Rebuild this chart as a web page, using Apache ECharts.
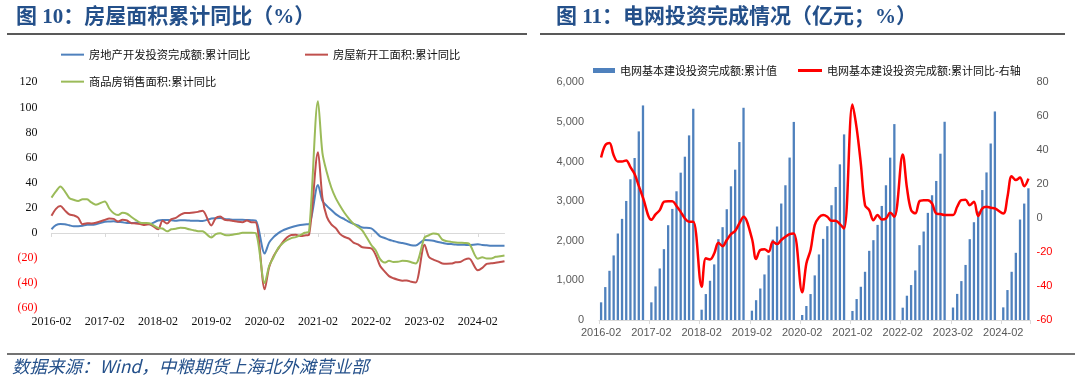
<!DOCTYPE html>
<html><head><meta charset="utf-8">
<script src="https://cdn.jsdelivr.net/npm/echarts@6/dist/echarts.min.js"></script>
<style>html,body{margin:0;padding:0;background:#fff}#c{width:1080px;height:380px}</style>
</head><body><div id="c"></div>
<script>
// ---- data (Feb..Dec per year; 2024 to Aug). January has no release -> null slot
const years = [2016, 2017, 2018, 2019, 2020, 2021, 2022, 2023, 2024];
const lastMonth2024 = 8;

const investYoY = [ // 房地产开发投资完成额:累计同比
  [3.0, 6.2, 7.2, 7.0, 6.1, 5.3, 5.4, 5.8, 6.6, 6.5, 6.9],
  [8.9, 9.1, 9.3, 8.8, 8.5, 7.9, 7.9, 8.1, 7.8, 7.5, 7.0],
  [9.9, 10.4, 10.3, 10.2, 9.7, 10.2, 10.1, 9.9, 9.7, 9.7, 9.5],
  [11.6, 11.8, 11.9, 11.2, 10.9, 10.6, 10.5, 10.5, 10.3, 10.2, 9.9],
  [-16.3, -7.7, -3.3, -0.3, 1.9, 3.4, 4.6, 5.6, 6.3, 6.8, 7.0],
  [38.3, 25.6, 21.6, 18.3, 15.0, 12.7, 10.9, 8.8, 7.2, 6.0, 4.4],
  [3.7, 0.7, -2.7, -4.0, -5.4, -6.4, -7.4, -8.0, -8.8, -9.8, -10.0],
  [-5.7, -5.8, -6.2, -7.2, -7.9, -8.5, -8.8, -9.1, -9.3, -9.4, -9.6],
  [-9.0, -9.5, -9.8, -10.1, -10.1, -10.2, -10.2]
];
const startsYoY = [ // 房屋新开工面积:累计同比
  [13.7, 19.2, 21.4, 18.0, 14.9, 14.0, 12.2, 6.9, 7.8, 7.6, 8.1],
  [10.4, 11.6, 11.2, 9.1, 10.6, 9.9, 7.8, 7.6, 7.1, 6.3, 7.0],
  [2.9, 9.7, 7.5, 11.0, 12.0, 14.4, 15.9, 16.0, 16.3, 16.8, 17.7],
  [6.0, 11.9, 13.1, 10.5, 10.1, 9.5, 8.9, 8.6, 10.0, 8.6, 8.5],
  [-44.9, -27.2, -18.4, -12.8, -7.6, -3.6, -1.6, -1.4, -2.4, -2.0, -1.2],
  [64.3, 28.2, 12.8, 6.9, 3.8, -0.9, -3.2, -4.5, -7.7, -9.1, -11.4],
  [-12.2, -17.5, -26.3, -30.6, -34.4, -36.1, -37.2, -38.0, -37.8, -38.9, -39.4],
  [-9.4, -19.2, -21.2, -22.6, -24.3, -24.5, -24.4, -23.4, -23.2, -21.2, -20.4],
  [-29.7, -27.8, -24.6, -24.2, -23.7, -23.2, -22.5]
];
const salesYoY = [ // 商品房销售面积:累计同比
  [28.2, 33.1, 37.1, 33.2, 27.9, 26.4, 25.5, 26.9, 26.8, 24.3, 22.5],
  [25.1, 19.5, 15.7, 14.3, 16.1, 15.3, 12.7, 10.3, 8.2, 7.9, 7.7],
  [4.1, 3.6, 1.3, 2.9, 3.3, 4.2, 4.0, 2.9, 2.2, 1.4, 1.3],
  [-3.6, -0.9, -0.3, -1.6, -1.8, -1.3, -0.6, 0.1, 0.2, 0.2, -0.1],
  [-39.9, -26.3, -19.3, -12.3, -8.4, -5.8, -4.1, -3.3, -1.8, 0.2, 1.3],
  [105.0, 63.8, 48.1, 36.2, 27.7, 21.5, 15.9, 11.3, 7.3, 4.8, 1.9],
  [-9.6, -13.8, -20.9, -23.6, -22.2, -23.1, -23.0, -22.2, -22.3, -23.3, -24.3],
  [-3.6, -1.8, -0.4, -0.9, -5.3, -6.5, -7.1, -7.5, -7.8, -8.0, -8.5],
  [-20.5, -19.4, -20.3, -20.3, -19.0, -18.6, -18.0]
];
const gridInvest = [ // 电网基本建设投资完成额:累计值 (亿元)
  [446, 831, 1242, 1630, 2183, 2553, 3005, 3552, 4089, 4761, 5416],
  [446, 848, 1301, 1788, 2393, 2804, 3249, 3719, 4122, 4660, 5332],
  [260, 655, 990, 1403, 2040, 2343, 2796, 3375, 3795, 4492, 5357],
  [235, 500, 795, 1150, 1635, 2030, 2360, 2940, 3401, 4100, 5000],
  [126, 353, 655, 1126, 1655, 2048, 2368, 2897, 3358, 3929, 4685],
  [227, 529, 839, 1217, 1746, 2015, 2401, 2879, 3401, 4098, 4945],
  [311, 613, 882, 1251, 1889, 2233, 2704, 3149, 3510, 4198, 5004],
  [315, 659, 982, 1390, 2040, 2468, 2740, 3280, 3725, 4455, 5264],
  [319, 756, 1217, 1696, 2536, 2939, 3325]
];
const gridInvestYoY = [ // 电网基本建设投资完成额:累计同比 (右轴)
  [35.7, 43.0, 44.3, 37.0, 33.3, 33.3, 34.0, 30.0, 26.0, 19.0, 12.0],
  [-1.0, 2.2, 4.7, 9.6, 10.0, 10.0, 7.2, 3.7, -0.2, -2.2, -2.2],
  [-40.4, -23.7, -24.3, -20.8, -14.5, -16.5, -12.9, -9.4, -7.5, -3.1, 0.8],
  [-12.0, -24.0, -18.8, -18.4, -19.8, -13.9, -15.3, -12.9, -11.0, -9.4, -9.0],
  [-43.7, -26.7, -18.8, -4.1, 0.4, 1.8, 0.8, -1.6, -1.6, -3.5, -6.1],
  [66.9, 53.0, 32.0, 7.6, 4.7, -1.2, 1.8, -0.8, -0.2, 3.1, 0.8],
  [37.5, 18.0, 4.7, 2.8, 10.0, 10.6, 10.6, 8.6, 2.7, 2.4, 1.8],
  [1.8, 6.7, 10.6, 10.8, 7.6, 9.6, 1.2, 5.7, 6.7, 6.1, 5.7],
  [2.7, 12.5, 24.7, 22.4, 23.9, 18.8, 23.3]
];

const names = {
  invest: '房地产开发投资完成额:累计同比',
  starts: '房屋新开工面积:累计同比',
  sales: '商品房销售面积:累计同比',
  bar: '电网基本建设投资完成额:累计值',
  line: '电网基本建设投资完成额:累计同比-右轴'
};

// ---- build category axis and flattened series (null for January)
const categories = [];
years.forEach(y => {
  for (let m = 1; m <= 12; m++) {
    if (y === years[0] && m < 2) continue;
    if (y === years[years.length - 1] && m > lastMonth2024) break;
    categories.push(y + '-' + (m < 10 ? '0' + m : '' + m));
  }
});
function flat(arr) {
  const out = [];
  arr.forEach((vals, i) => {
    if (i > 0) out.push(null);
    vals.forEach(v => out.push(v));
  });
  return out;
}

const serif = '"Liberation Serif", "Noto Sans CJK SC", serif';
const cjk = '"Noto Sans CJK SC", sans-serif';
const sans = '"Liberation Sans", "Noto Sans CJK SC", sans-serif';
const titleColor = '#24508A';

const lineLegend = (name, left, top, size) => ({
  data: [name], left: left, top: top, padding: 0, icon: 'rect', itemWidth: 23, itemHeight: 2,
  textStyle: {fontSize: size, color: '#111', fontFamily: cjk}
});

const chart = echarts.init(document.getElementById('c'), null, {renderer: 'canvas'});
chart.setOption({
  animation: false,
  backgroundColor: '#fff',
  title: [
    {text: '图 10：房屋面积累计同比（%）', left: 11, top: 2, textStyle: {fontSize: 21, fontWeight: 'bold', color: titleColor, fontFamily: serif}},
    {text: '图 11：电网投资完成情况（亿元；%）', left: 551, top: 2, textStyle: {fontSize: 21, fontWeight: 'bold', color: titleColor, fontFamily: serif}}
  ],
  graphic: [
    {type: 'line', shape: {x1: 7, y1: 34, x2: 527, y2: 34}, style: {stroke: '#222', lineWidth: 1.5}},
    {type: 'line', shape: {x1: 540, y1: 34, x2: 1065, y2: 34}, style: {stroke: '#222', lineWidth: 1.5}},
    {type: 'line', shape: {x1: 7, y1: 354, x2: 1075, y2: 354}, style: {stroke: '#444', lineWidth: 1.5}},
    {type: 'text', left: 12, top: 358, style: {text: '数据来源：Wind，中粮期货上海北外滩营业部', font: 'italic 17.5px "Noto Sans CJK SC", sans-serif', fill: titleColor}}
  ],
  legend: [
    lineLegend(names.invest, 61, 49, 11.3),
    lineLegend(names.starts, 305, 49, 11.3),
    lineLegend(names.sales, 61, 76, 11.3),
    {data: [names.bar], left: 593, top: 65, padding: 0, icon: 'rect', itemWidth: 22, itemHeight: 5, textStyle: {fontSize: 11, color: '#111', fontFamily: cjk}},
    {data: [names.line], left: 798, top: 65, padding: 0, icon: 'rect', itemWidth: 24, itemHeight: 3, textStyle: {fontSize: 11, color: '#111', fontFamily: cjk}}
  ],
  grid: [
    {left: 51.5, top: 82.3, width: 453, height: 226},
    {left: 599, top: 82.3, width: 431.5, height: 237.7}
  ],
  xAxis: [
    {gridIndex: 0, type: 'category', data: categories, boundaryGap: false, position: 'bottom',
      axisLine: {show: false, onZero: false}, axisTick: {show: false},
      axisLabel: {interval: 11, margin: 8, fontSize: 12, color: '#111', fontFamily: serif}},
    {gridIndex: 0, type: 'category', data: categories, boundaryGap: false, position: 'top',
      axisLine: {show: true, onZero: true, lineStyle: {color: '#D9D9D9', width: 1.2}},
      axisTick: {show: true, interval: 11, inside: true, length: 4, lineStyle: {color: '#D9D9D9'}},
      axisLabel: {show: false}},
    {gridIndex: 1, type: 'category', data: categories, boundaryGap: true, position: 'bottom',
      axisLine: {show: true, lineStyle: {color: '#D9D9D9', width: 1}},
      axisTick: {show: true, interval: 11, length: 4, lineStyle: {color: '#D9D9D9'}},
      axisLabel: {interval: 11, margin: 7, fontSize: 11, color: '#595959', fontFamily: sans}}
  ],
  yAxis: [
    {gridIndex: 0, type: 'value', min: -60, max: 120, interval: 20,
      axisLine: {show: false}, axisTick: {show: false}, splitLine: {show: false},
      axisLabel: {margin: 14, fontSize: 12, fontFamily: serif,
        formatter: v => (v < 0 ? '(' + (-v) + ')' : '' + v),
        color: v => (Number(v) < 0 ? '#FF0000' : '#111')}},
    {gridIndex: 1, type: 'value', min: 0, max: 6000, interval: 1000,
      axisLine: {show: false}, axisTick: {show: false}, splitLine: {show: false},
      axisLabel: {margin: 15, fontSize: 11, fontFamily: sans, color: '#595959',
        formatter: v => Number(v).toLocaleString('en-US')}},
    {gridIndex: 1, type: 'value', position: 'right', min: -60, max: 80, interval: 20,
      axisLine: {show: false}, axisTick: {show: false}, splitLine: {show: false},
      axisLabel: {margin: 6, fontSize: 11, fontFamily: sans,
        color: v => (Number(v) < 0 ? '#FF0000' : '#595959')}}
  ],
  series: [
    {name: names.invest, type: 'line', xAxisIndex: 0, yAxisIndex: 0, data: flat(investYoY), smooth: 0.3,
      connectNulls: true, symbol: 'none', lineStyle: {width: 2, color: '#4F81BD'}, itemStyle: {color: '#4F81BD'}},
    {name: names.starts, type: 'line', xAxisIndex: 0, yAxisIndex: 0, data: flat(startsYoY), smooth: 0.3,
      connectNulls: true, symbol: 'none', lineStyle: {width: 2, color: '#C0504D'}, itemStyle: {color: '#C0504D'}},
    {name: names.sales, type: 'line', xAxisIndex: 0, yAxisIndex: 0, data: flat(salesYoY), smooth: 0.3,
      connectNulls: true, symbol: 'none', lineStyle: {width: 2, color: '#9BBB59'}, itemStyle: {color: '#9BBB59'}},
    {name: names.bar, type: 'bar', xAxisIndex: 2, yAxisIndex: 1, data: flat(gridInvest), barWidth: '55%',
      itemStyle: {color: '#4F81BD'}},
    {name: names.line, type: 'line', xAxisIndex: 2, yAxisIndex: 2, data: flat(gridInvestYoY), smooth: 0.35,
      connectNulls: true, symbol: 'none', lineStyle: {width: 2.5, color: '#FF0000'}, itemStyle: {color: '#FF0000'}}
  ]
});
</script>
</body></html>
